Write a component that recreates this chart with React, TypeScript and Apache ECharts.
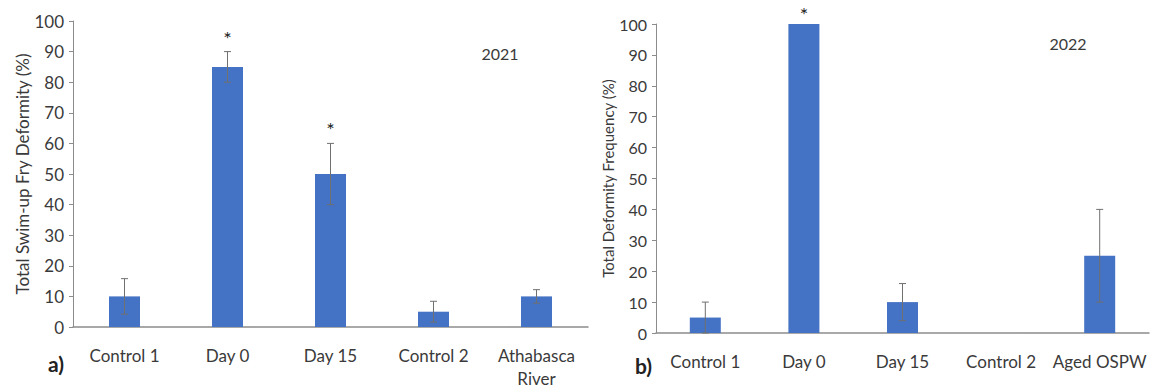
import React, { useEffect, useRef } from "react";
import * as echarts from "echarts";

const categoriesA = ["Control 1", "Day 0", "Day 15", "Control 2", "Athabasca\nRiver"];
const valuesA = [10, 85, 50, 5, 10];
const errorsA = [5.8, 5, 10, 3.4, 2.2];
const sigA = [false, true, true, false, false];

const categoriesB = ["Control 1", "Day 0", "Day 15", "Control 2", "Aged OSPW"];
const valuesB = [5, 100, 10, 0, 25];
const errorsB = [5, 0, 6, 0, 15];
const sigB = [false, true, false, false, false];

const yTicks = { min: 0, max: 100, interval: 10 };

const FONT = "Lato";
const BAR = "#4472C4";
const AXIS = "#8c8c8c";
const TEXT = "#3a3a3a";
const ERR = "#707070";

function errData(values: number[], errors: number[], sig: boolean[]) {
  return values.map((v, i) => [i, v - errors[i], v + errors[i], sig[i] ? 1 : 0, errors[i]]);
}

function renderErr(params: any, api: any) {
  const idx = api.value(0);
  const lo = api.value(1);
  const hi = api.value(2);
  const s = api.value(3);
  const e = api.value(4);
  const pLo = api.coord([idx, lo]);
  const pHi = api.coord([idx, hi]);
  const children: any[] = [];
  const st = { stroke: ERR, lineWidth: 1 };
  if (e > 0) {
    children.push({ type: "line", shape: { x1: pLo[0], y1: pLo[1], x2: pHi[0], y2: pHi[1] }, style: st });
    children.push({ type: "line", shape: { x1: pHi[0] - 3.5, y1: pHi[1], x2: pHi[0] + 3.5, y2: pHi[1] }, style: st });
    children.push({ type: "line", shape: { x1: pLo[0] - 3.5, y1: pLo[1], x2: pLo[0] + 3.5, y2: pLo[1] }, style: st });
  }
  if (s) {
    children.push({
      type: "text",
      x: pHi[0],
      y: Math.max(pHi[1] - 14, 14),
      style: { text: "*", fontSize: 20, fontFamily: FONT, fill: "#222", align: "center", verticalAlign: "middle" },
    });
  }
  return { type: "group", children };
}

export default function App() {
  const ref = useRef<HTMLDivElement>(null);
  useEffect(() => {
    if (!ref.current) return;
    const chart = echarts.init(ref.current, null, { renderer: "svg" });
    const yAxisCommon = (name: string, fs: number, nameFs: number, gap: number) => ({
      type: "value",
      ...yTicks,
      name,
      nameLocation: "middle",
      nameGap: gap,
      nameTextStyle: { fontFamily: FONT, fontSize: nameFs, color: TEXT },
      axisLine: { show: true, lineStyle: { color: AXIS, width: 1 } },
      axisTick: { show: true, length: 4, lineStyle: { color: AXIS } },
      axisLabel: { fontFamily: FONT, fontSize: fs, color: TEXT, margin: 9 },
      splitLine: { show: false },
    });
    const xAxisCommon = (cats: string[], idx: number) => ({
      type: "category",
      gridIndex: idx,
      data: cats,
      axisLine: { show: true, lineStyle: { color: AXIS, width: 1.5 } },
      axisTick: { show: false },
      axisLabel: { fontFamily: FONT, fontSize: 17, color: TEXT, margin: 17, lineHeight: 23, interval: 0 },
    });
    chart.setOption({
      animation: false,
      backgroundColor: "#ffffff",
      grid: [
        { left: 73, top: 21, width: 515, height: 310 },
        { left: 656, top: 24, width: 493, height: 309 },
      ],
      xAxis: [xAxisCommon(categoriesA, 0), xAxisCommon(categoriesB, 1)],
      yAxis: [
        { ...yAxisCommon("Total Swim-up Fry Deformity (%)", 17, 17, 41), gridIndex: 0 },
        { ...yAxisCommon("Total Deformity Frequency (%)", 16, 15, 40), gridIndex: 1 },
      ],
      series: [
        { type: "bar", xAxisIndex: 0, yAxisIndex: 0, data: valuesA, barWidth: 31, itemStyle: { color: BAR } },
        {
          type: "custom",
          xAxisIndex: 0,
          yAxisIndex: 0,
          data: errData(valuesA, errorsA, sigA),
          renderItem: renderErr,
          encode: { x: 0, y: [1, 2] },
          clip: false,
          z: 5,
        },
        { type: "bar", xAxisIndex: 1, yAxisIndex: 1, data: valuesB, barWidth: 31, itemStyle: { color: BAR } },
        {
          type: "custom",
          xAxisIndex: 1,
          yAxisIndex: 1,
          data: errData(valuesB, errorsB, sigB),
          renderItem: renderErr,
          encode: { x: 0, y: [1, 2] },
          clip: false,
          z: 5,
        },
      ],
      graphic: [
        { type: "text", x: 500, y: 53, style: { text: "2021", fontFamily: FONT, fontSize: 16, fill: TEXT, align: "center", verticalAlign: "middle" } },
        { type: "text", x: 1068, y: 43, style: { text: "2022", fontFamily: FONT, fontSize: 16, fill: TEXT, align: "center", verticalAlign: "middle" } },
        { type: "text", x: 48, y: 353, style: { text: "a)", fontFamily: FONT, fontSize: 21, fontWeight: "bold", fill: "#222" } },
        { type: "text", x: 635, y: 355, style: { text: "b)", fontFamily: FONT, fontSize: 21, fontWeight: "bold", fill: "#222" } },
      ],
    });
    return () => chart.dispose();
  }, []);
  return <div ref={ref} style={{ position: "fixed", left: 0, top: 0, width: 1151, height: 390 }} />;
}
